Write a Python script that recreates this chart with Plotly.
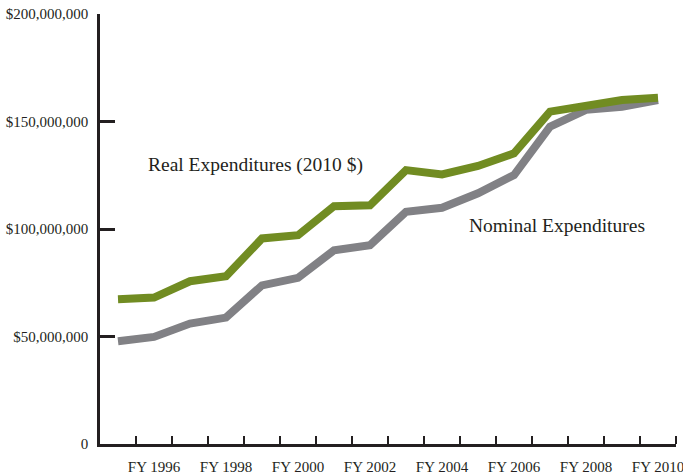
import plotly.graph_objects as go

years = list(range(1995, 2011))
real_exp = [67.3, 68.1, 75.7, 78.0, 95.6, 97.1, 110.6, 111.0, 127.4, 125.4,
            129.3, 135.2, 154.6, 157.7, 160.0, 161.0]
nominal_exp = [47.8, 49.8, 56.0, 58.8, 73.8, 77.3, 90.1, 92.5, 108.0, 109.9,
               116.6, 125.1, 147.6, 155.4, 156.9, 160.0]
x_tick_years = [1996, 1998, 2000, 2002, 2004, 2006, 2008, 2010]
x_tick_labels = ["FY %d" % y for y in x_tick_years]
y_tick_vals = [0, 50e6, 100e6, 150e6, 200e6]
y_tick_labels = ["0", "$50,000,000", "$100,000,000", "$150,000,000", "$200,000,000"]

GREEN = "#718c22"
GRAY = "#818185"
INK = "#231f20"
FONT = "Liberation Serif"

fig = go.Figure()
fig.add_trace(go.Scatter(x=years, y=[v * 1e6 for v in nominal_exp], mode="lines",
                         line=dict(color=GRAY, width=8), hoverinfo="skip"))
fig.add_trace(go.Scatter(x=years, y=[v * 1e6 for v in real_exp], mode="lines",
                         line=dict(color=GREEN, width=8), hoverinfo="skip"))

fig.add_annotation(x=1998.83, y=129.7e6, text="Real Expenditures (2010 $)", showarrow=False,
                   font=dict(family=FONT, size=19.5, color=INK), xanchor="center", yanchor="middle")
fig.add_annotation(x=2007.19, y=101.8e6, text="Nominal Expenditures", showarrow=False,
                   font=dict(family=FONT, size=19.5, color=INK), xanchor="center", yanchor="middle")

fig.update_layout(
    width=683, height=476,
    margin=dict(l=100, r=7, t=14, b=32),
    paper_bgcolor="white", plot_bgcolor="white",
    showlegend=False,
    font=dict(family=FONT, color=INK),
)
fig.update_xaxes(
    range=[1994.5, 2010.5], showgrid=False, zeroline=False, automargin=False,
    showline=True, linecolor=INK, linewidth=2.5,
    tickmode="array", tickvals=x_tick_years, ticktext=x_tick_labels, ticks="",
    tickfont=dict(family=FONT, size=15, color=INK), ticklabelstandoff=7,
    ticklabeloverflow="allow",
    minor=dict(tickmode="array", tickvals=[y + 0.5 for y in years], ticks="inside",
               ticklen=8, tickwidth=2, tickcolor=INK, showgrid=False),
)
fig.update_yaxes(
    range=[0, 200e6], showgrid=False, zeroline=False, automargin=False,
    showline=True, linecolor=INK, linewidth=2.5,
    tickmode="array", tickvals=y_tick_vals, ticktext=y_tick_labels,
    ticks="inside", ticklen=15, tickwidth=2.5, tickcolor=INK,
    tickfont=dict(family=FONT, size=15, color=INK), ticklabelstandoff=6,
    ticklabeloverflow="allow",
)

fig.write_html("out.html", config={"displayModeBar": False},
               post_script="document.body.style.margin='0';document.body.style.overflow='hidden';")
